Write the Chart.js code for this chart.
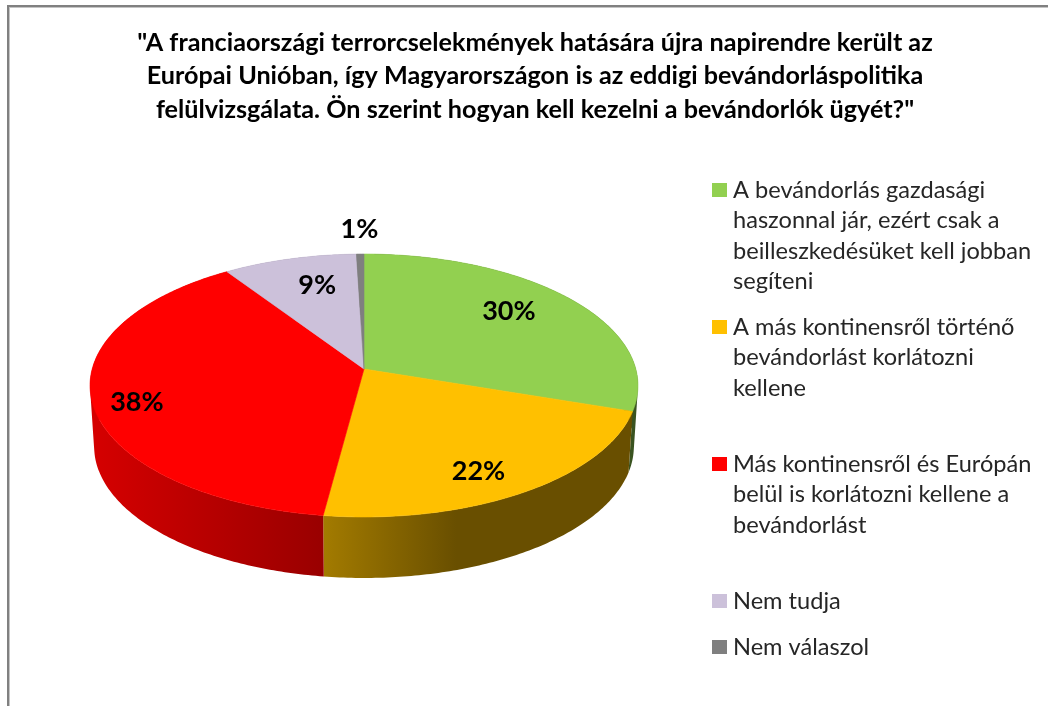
<!DOCTYPE html>
<html>
<head>
<meta charset="utf-8">
<style>html,body{margin:0;padding:0;background:#fff}canvas{display:block}</style>
<script src="https://cdn.jsdelivr.net/npm/chart.js@4"></script>
</head>
<body>
<canvas id="c" width="1048" height="706"></canvas>
<script>
const titleLines = [
  '"A franciaországi terrorcselekmények hatására újra napirendre került az',
  'Európai Unióban, így Magyarországon is az eddigi bevándorláspolitika',
  'felülvizsgálata. Ön szerint hogyan kell kezelni a bevándorlók ügyét?"'
];
const categories = [
  'A bevándorlás gazdasági haszonnal jár, ezért csak a beilleszkedésüket kell jobban segíteni',
  'A más kontinensről történő bevándorlást korlátozni kellene',
  'Más kontinensről és Európán belül is korlátozni kellene a bevándorlást',
  'Nem tudja',
  'Nem válaszol'
];
const legendLines = [
  ['A bevándorlás gazdasági', 'haszonnal jár, ezért csak a', 'beilleszkedésüket kell jobban', 'segíteni'],
  ['A más kontinensről történő', 'bevándorlást korlátozni', 'kellene'],
  ['Más kontinensről és Európán', 'belül is korlátozni kellene a', 'bevándorlást'],
  ['Nem tudja'],
  ['Nem válaszol']
];
const values = [30.1, 22, 38.5, 8.9, 0.5];
const valueLabels = ['30%', '22%', '38%', '9%', '1%'];
const colors = ['#92D050', '#FFC000', '#FF0000', '#CCC1DA', '#7F7F7F'];

// projective view of the pie disc
const view = {cx: 364, cy: 369, A: 129.4, B: 271.8, c: 0.1255, depth: 61, shrink: 0.985};
function project(r, theta) {
  const u = r * Math.sin(theta), v = r * Math.cos(theta), w = 1 + view.c * v;
  return [view.cx + view.B * u / w, view.cy - view.A * v / w];
}
function sweep(a, b) {
  const pts = [], n = Math.max(2, Math.ceil(Math.abs(b - a) / (Math.PI / 240)));
  for (let i = 0; i <= n; i++) pts.push(project(1, a + (b - a) * i / n));
  return pts;
}
function shade(hex, f) {
  const n = parseInt(hex.slice(1), 16);
  return `rgb(${Math.round((n >> 16 & 255) * f)},${Math.round((n >> 8 & 255) * f)},${Math.round((n & 255) * f)})`;
}

// draw each arc element as the top face of the tilted pie
Chart.ArcElement.prototype.draw = function (ctx) {
  const a = this.startAngle + Math.PI / 2, b = this.endAngle + Math.PI / 2;
  const pts = sweep(a, b);
  ctx.save();
  ctx.beginPath();
  ctx.moveTo(view.cx, view.cy);
  pts.forEach(p => ctx.lineTo(p[0], p[1]));
  ctx.closePath();
  ctx.fillStyle = this.options.backgroundColor;
  ctx.strokeStyle = this.options.backgroundColor;
  ctx.lineWidth = 0.6;
  ctx.fill();
  ctx.stroke();
  ctx.restore();
};

const sideStops = [[0.4, 0.4, 1], [0.64, 0.41, 0.43], [0.84, 0.6, 1], [0.6, 0.6, 1], [0.5, 0.5, 1]];
const labelRadius = [0.735, 0.815, 0.847, 0.732, 1.25];
const labelTurn = [-4, 4, -4, 3, 0];

const piePlugin = {
  id: 'pie3d',
  beforeDraw(chart) {
    const ctx = chart.ctx;
    ctx.save();
    ctx.fillStyle = '#ffffff';
    ctx.fillRect(0, 0, 1048, 706);
    ctx.fillStyle = '#808080';
    ctx.fillRect(7, 5, 2, 701);
    ctx.fillRect(7, 5, 1041, 2);
    ctx.fillStyle = '#c4c4c4';
    ctx.fillRect(9, 7, 1, 699);
    ctx.fillRect(9, 7, 1039, 1);
    ctx.restore();
  },
  beforeDatasetsDraw(chart) {
    const ctx = chart.ctx;
    chart.getDatasetMeta(0).data.forEach((el, i) => {
      const a = el.startAngle + Math.PI / 2, b = el.endAngle + Math.PI / 2;
      const top = sweep(a, b);
      const bottom = top.map(p => [view.cx + (p[0] - view.cx) * view.shrink, p[1] + view.depth]);
      const xs = top.concat(bottom).map(p => p[0]);
      const x0 = Math.min(...xs), x1 = Math.max(...xs);
      const s = sideStops[i];
      const g = ctx.createLinearGradient(x0, 0, x1, 0);
      g.addColorStop(0, shade(colors[i], s[0]));
      g.addColorStop(s[2], shade(colors[i], s[1]));
      ctx.save();
      ctx.beginPath();
      for (let k = 0; k < top.length - 1; k++) {
        const q = [top[k], top[k + 1], bottom[k + 1], bottom[k]];
        let area = 0;
        q.forEach((p, j) => { const n = q[(j + 1) % 4]; area += p[0] * n[1] - n[0] * p[1]; });
        if (area < 0) q.reverse();
        q.forEach((p, j) => j ? ctx.lineTo(p[0], p[1]) : ctx.moveTo(p[0], p[1]));
        ctx.closePath();
      }
      ctx.fillStyle = g;
      ctx.fill();
      ctx.restore();
    });
  },
  afterDraw(chart) {
    const ctx = chart.ctx;
    ctx.save();
    // value labels
    ctx.font = 'bold 27px Lato';
    ctx.fillStyle = '#000000';
    ctx.textAlign = 'center';
    ctx.textBaseline = 'middle';
    chart.getDatasetMeta(0).data.forEach((el, i) => {
      const mid = (el.startAngle + el.endAngle) / 2 + Math.PI / 2 + labelTurn[i] * Math.PI / 180;
      const p = project(labelRadius[i], mid);
      ctx.fillText(valueLabels[i], p[0], p[1]);
    });
    // legend
    const firstLine = [190, 327, 464, 601, 647];
    ctx.textAlign = 'left';
    ctx.font = '23.6px Lato';
    legendLines.forEach((lines, i) => {
      ctx.fillStyle = colors[i];
      ctx.fillRect(712, firstLine[i] - 7, 15, 14);
      ctx.fillStyle = '#262626';
      lines.forEach((t, k) => ctx.fillText(t, 733, firstLine[i] + k * 30.6));
    });
    ctx.restore();
  }
};

new Chart(document.getElementById('c'), {
  type: 'pie',
  data: {
    labels: categories,
    datasets: [{data: values, backgroundColor: colors, borderWidth: 0}]
  },
  options: {
    responsive: false,
    animation: false,
    layout: {padding: {left: 22, right: 0, top: 26, bottom: 100}},
    plugins: {
      legend: {display: false},
      tooltip: {enabled: false},
      title: {
        display: true,
        text: titleLines,
        color: '#000000',
        font: {family: 'Lato', size: 25.2, weight: 'bold', lineHeight: 1.33},
        padding: {top: 0, bottom: 10}
      }
    }
  },
  plugins: [piePlugin]
});
</script>
</body>
</html>
